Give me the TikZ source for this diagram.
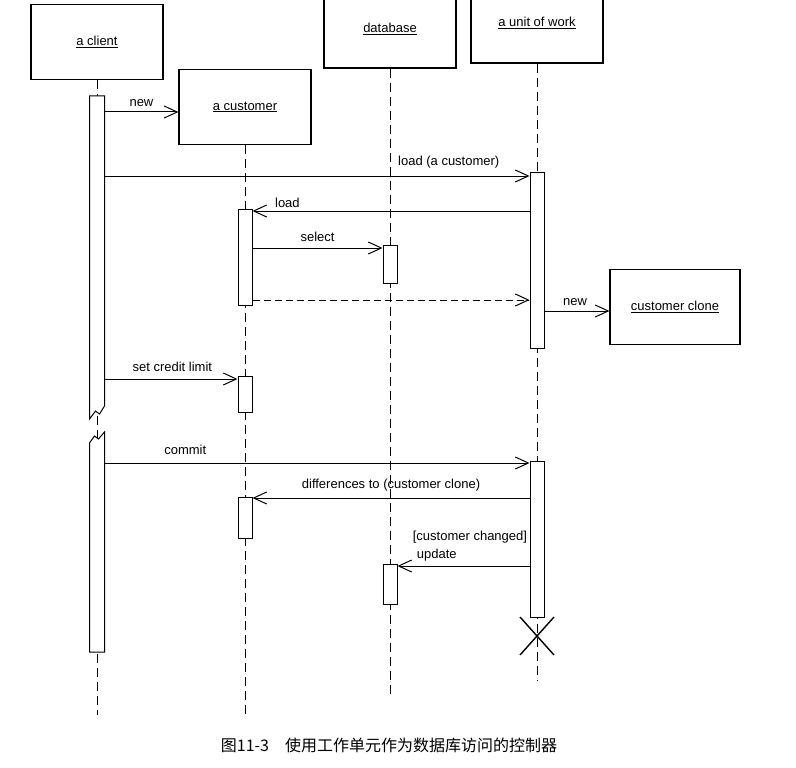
\documentclass[tikz,border=0pt]{standalone}
\usepackage{fontspec}
\setmainfont{Liberation Sans}
\newfontfamily\cjkfont{Noto Sans CJK SC}
\usepackage{tikz}
\usetikzlibrary{arrows.meta,calc}
\tikzstyle{object}=[
	rectangle,
	draw=black,
	line width=1.2pt,
	minimum width=132pt,
	minimum height=75pt,
	font=\fontsize{13}{15}\selectfont
]
\tikzstyle{bar}=[
	rectangle,
	draw=black,
	fill=white,
	line width=1pt,
	minimum width=14pt,
	inner sep=0pt,
	anchor=north
]
\tikzstyle{lifeline}=[
	draw=black,
	line width=1pt,
	dash pattern=on 9pt off 5pt
]
\tikzstyle{msg}=[
	-{Straight Barb[length=13pt,width=12pt]},
	draw=black,
	line width=1pt
]
\tikzstyle{ret}=[
	msg,
	dash pattern=on 7pt off 4pt
]
\tikzstyle{msgtext}=[
	font=\fontsize{13}{18}\selectfont,
	inner sep=1pt
]
\newcommand{\objname}[1]{\underline{#1}}

\begin{document}
\begin{tikzpicture}[x=1pt,y=-1pt]
\useasboundingbox (0,0) rectangle (796,768);
\clip (0,0) rectangle (796,768);

% objects
\node[object] (client) at (97,42) {\objname{a client}};
\node[object] (cust) at (245,107) {\objname{a customer}};
\node[object, minimum height=78pt] (db) at (390,29) {\objname{database}};
\node[object, minimum height=80pt] (uow) at (537,23) {\objname{a unit of work}};
\node[object, minimum width=130pt] (clone) at (675,307) {\objname{customer clone}};

% lifelines
\draw[lifeline] (client.south) -- (client.south |- 0,715);
\draw[lifeline] (cust.south) -- (cust.south |- 0,715);
\draw[lifeline] (db.south) -- (db.south |- 0,695);
\draw[lifeline] (uow.south) -- (uow.south |- 0,680);

% activations
\node[bar, draw=none, fill=none, minimum height=322pt] (clientA) at (97,96) {};
\draw[line width=1pt, fill=white] (clientA.south west) -- (clientA.north west) -- (clientA.north east)
  -- ($(clientA.south east)+(0,-13)$) -- ++(-5,8) -- ++(-4,-3) -- cycle;
\node[bar, draw=none, fill=none, minimum height=219pt] (clientB) at (97,432) {};
\draw[line width=1pt, fill=white] ($(clientB.north west)+(0,11)$) -- ++(5,-7) -- ++(4,3)
  -- (clientB.north east) -- (clientB.south east) -- (clientB.south west) -- cycle;
\node[bar, minimum height=96pt] (custA) at (245,209) {};
\node[bar, minimum height=36pt] (custB) at (245,376) {};
\node[bar, minimum height=41pt] (custC) at (245,497) {};
\node[bar, minimum height=38pt] (dbA) at (390,245) {};
\node[bar, minimum height=40pt] (dbB) at (390,564) {};
\node[bar, minimum height=176pt] (uowA) at (537,172) {};
\node[bar, minimum height=156pt] (uowB) at (537,461) {};

% messages
\draw[msg] (clientA.east |- 0,112) -- (cust.west |- 0,112) node[msgtext, midway, above=4pt] {new};
\draw[msg] (clientA.east |- 0,176) -- (uowA.west |- 0,176) node[msgtext, pos=0.81, above=6pt] {load (a customer)};
\draw[msg] (uowA.west |- 0,211) -- (custA.east |- 0,211) node[msgtext, pos=0.874, above=2pt] {load};
\draw[msg] (custA.east |- 0,248) -- (dbA.west |- 0,248) node[msgtext, midway, above=5pt] {select};
\draw[ret] (custA.east |- 0,300) -- (uowA.west |- 0,300);
\draw[msg] (uowA.east |- 0,311) -- (clone.west |- 0,311) node[msgtext, pos=0.47, above=4pt] {new};
\draw[msg] (clientA.east |- 0,379) -- (custB.west |- 0,379) node[msgtext, pos=0.51, above=6pt] {set credit limit};
\draw[msg] (clientB.east |- 0,463) -- (uowB.west |- 0,463) node[msgtext, pos=0.19, above=7pt] {commit};
\draw[msg] (uowB.west |- 0,498) -- (custC.east |- 0,498) node[msgtext, midway, above=5pt] {differences to (customer clone)};
\draw[msg] (uowB.west |- 0,566) -- (dbB.east |- 0,566)
  node[msgtext, pos=0.895, anchor=south west, yshift=3pt, align=left] {[customer changed]\\\hspace*{4pt}update};

% destruction
\coordinate (kill) at ($(uowB.south)+(0,18)$);
\draw[line width=1.4pt] ($(kill)+(-17,-19)$) -- ($(kill)+(17,19)$);
\draw[line width=1.4pt] ($(kill)+(-17,19)$) -- ($(kill)+(17,-19)$);

% caption
\node[font=\cjkfont\fontsize{16}{18}\selectfont] (caption) at (389,745) {图11-3\quad 使用工作单元作为数据库访问的控制器};
\end{tikzpicture}
\end{document}
